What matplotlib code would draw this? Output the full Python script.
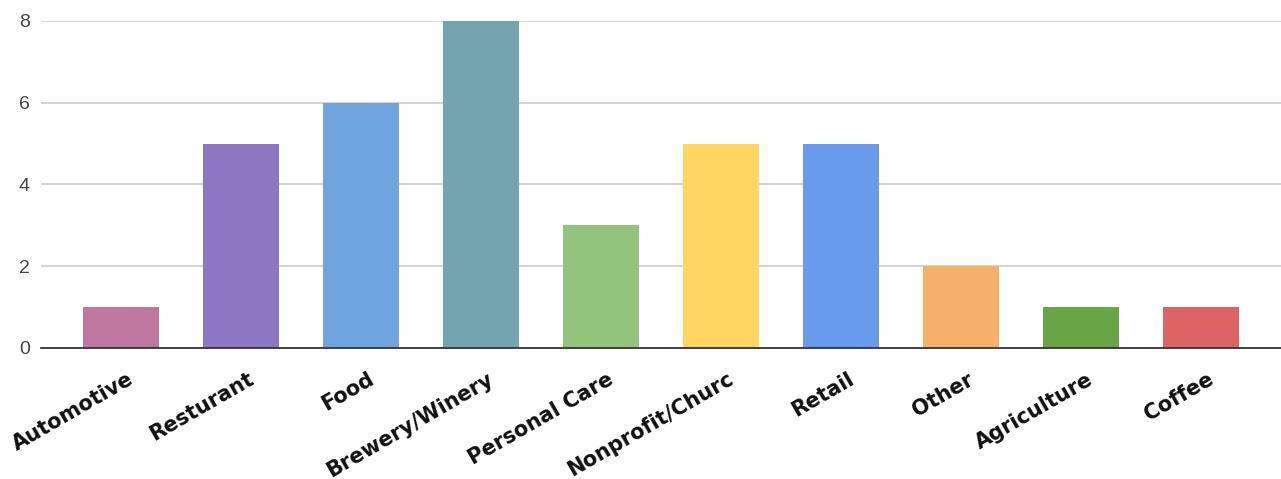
import matplotlib
matplotlib.use("Agg")
import matplotlib.pyplot as plt
from matplotlib.transforms import ScaledTranslation

categories = ["Automotive", "Resturant", "Food", "Brewery/Winery", "Personal Care",
              "Nonprofit/Churc", "Retail", "Other", "Agriculture", "Coffee"]
counts = [1, 5, 6, 8, 3, 5, 5, 2, 1, 1]
colors = ["#bf779f", "#8c77c2", "#6fa4dc", "#72a5b0", "#92c47d",
          "#ffd662", "#6a9aeb", "#f5b06a", "#67a546", "#dd6464"]
yticks = [0, 2, 4, 6, 8]

plt.rcParams["font.family"] = ["Liberation Sans", "DejaVu Sans"]

fig = plt.figure(figsize=(12.81, 4.79), dpi=100)
ax = fig.add_axes([0.032, 0.2735, 0.968, 0.6827])

x = list(range(len(categories)))
ax.bar(x, counts, width=0.64, color=colors, zorder=3)

ax.set_xlim(-0.667, len(categories) - 1 + 0.667)
ax.set_ylim(0, 8)
ax.set_yticks(yticks)
ax.set_yticklabels([str(v) for v in yticks], fontsize=14, color="#444444")
ax.yaxis.grid(True, color="#cccccc", linewidth=1.2, zorder=0)
ax.set_axisbelow(True)

ax.set_xticks(x)
ax.set_xticklabels(categories, rotation=30, ha="right", va="baseline",
                   rotation_mode="anchor", fontsize=15, fontweight="bold",
                   family=["DejaVu Sans"], color="#111111")
ax.tick_params(axis="x", length=0, pad=0)
ax.tick_params(axis="y", length=0, pad=8)
shift = ScaledTranslation(14 / 100, -35 / 100, fig.dpi_scale_trans)
for lbl in ax.get_xticklabels():
    lbl.set_transform(lbl.get_transform() + shift)

for side in ["top", "right", "left"]:
    ax.spines[side].set_visible(False)
ax.spines["bottom"].set_color("#333333")
ax.spines["bottom"].set_linewidth(1.3)
ax.spines["bottom"].set_zorder(4)

fig.savefig("out.png", dpi=100)
